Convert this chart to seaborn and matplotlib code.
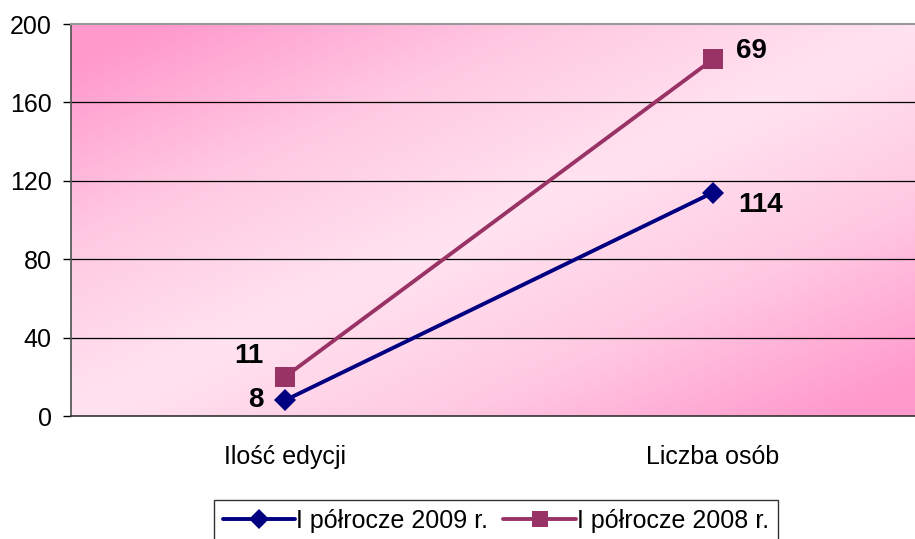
import numpy as np
import pandas as pd
import matplotlib
matplotlib.use("Agg")
import matplotlib.pyplot as plt
from matplotlib.colors import LinearSegmentedColormap
from matplotlib.lines import Line2D
import seaborn as sns

# ── Data ───────────────────────────────────────────────────────────────────
categories = ["Ilość edycji", "Liczba osób"]
series_2009 = [8, 114]
series_2008 = [20, 182]
labels_2009 = ["8", "114"]
labels_2008 = ["11", "69"]
name_2009 = "I półrocze 2009 r."
name_2008 = "I półrocze 2008 r."
y_ticks = [0, 40, 80, 120, 160, 200]

NAVY = "#000080"
PLUM = "#993366"

# ── Style ──────────────────────────────────────────────────────────────────
sns.set_theme(style="white")
plt.rcParams["font.family"] = ["Liberation Sans", "DejaVu Sans"]
plt.rcParams["text.color"] = "black"
plt.rcParams["xtick.color"] = "black"
plt.rcParams["ytick.color"] = "black"

df = pd.DataFrame({
    "cat": categories * 2,
    "val": series_2009 + series_2008,
    "series": [name_2009] * 2 + [name_2008] * 2,
})

fig = plt.figure(figsize=(9.15, 5.39), dpi=100)
ax = fig.add_axes([71 / 915, 123 / 539, 856 / 915, 392 / 539])

# pink diagonal gradient background
n = 200
u, v = np.meshgrid(np.linspace(0, 1, n), np.linspace(1, 0, n))
grad = np.abs(u - v)
cmap = LinearSegmentedColormap.from_list("pink", ["#FFE3F0", "#FFC8E2", "#FF99CC"])
ax.imshow(grad, cmap=cmap, extent=[0, 1, 0, 1], transform=ax.transAxes,
          aspect="auto", zorder=0, vmin=0, vmax=0.9)

d08 = df[df["series"] == name_2008]
d09 = df[df["series"] == name_2009]
sns.lineplot(data=d08, x="cat", y="val", color=PLUM, lw=2.8, marker="s",
             markersize=15, markeredgewidth=0, ax=ax, zorder=3, legend=False)
sns.lineplot(data=d09, x="cat", y="val", color=NAVY, lw=2.8, marker="D",
             markersize=11, markeredgewidth=0, ax=ax, zorder=4, legend=False)

# data labels
offs_08 = [(-26, 15), (28, 6)]
offs_09 = [(-21, 0), (34, -9)]
for i, (lab, off) in enumerate(zip(labels_2008, offs_08)):
    ax.annotate(lab, (i, series_2008[i]), xytext=off, textcoords="offset points",
                ha="center", va="center", fontsize=20, fontweight="bold",
                color="black", zorder=5)
for i, (lab, off) in enumerate(zip(labels_2009, offs_09)):
    ax.annotate(lab, (i, series_2009[i]), xytext=off, textcoords="offset points",
                ha="center", va="center", fontsize=20, fontweight="bold",
                color="black", zorder=5)

# axes
ax.set_xlim(-0.5, 1.5)
ax.set_ylim(0, 200)
ax.set_yticks(y_ticks)
ax.set_yticklabels([str(t) for t in y_ticks], fontsize=18)
ax.set_xticks([0, 1])
ax.set_xticklabels(categories, fontsize=18)
ax.set_xticks([-0.5, 0.5, 1.5], minor=True)
ax.tick_params(axis="x", which="major", length=0, pad=21)
ax.tick_params(axis="x", which="minor", length=6, width=1, color="black", direction="out")
ax.tick_params(axis="y", length=6, width=1, color="black", direction="out", pad=8, left=True)
ax.set_xlabel("")
ax.set_ylabel("")
for t in y_ticks[1:-1]:
    ax.axhline(t, color="black", lw=0.9, zorder=1)
ax.spines["top"].set_color("#999999")
ax.spines["top"].set_linewidth(1.5)
ax.spines["left"].set_color("#555555")
ax.spines["bottom"].set_color("#333333")
ax.spines["bottom"].set_linewidth(1.2)
ax.spines["right"].set_visible(False)

handles = [
    Line2D([], [], color=NAVY, lw=2.8, marker="D", markersize=10, markeredgewidth=0),
    Line2D([], [], color=PLUM, lw=2.8, marker="s", markersize=12, markeredgewidth=0),
]
leg = fig.legend(handles, [name_2009, name_2008], loc="lower center",
                 bbox_to_anchor=(0.542, -0.019), ncol=2, fontsize=18, frameon=True,
                 fancybox=False, edgecolor="black", handlelength=2.9,
                 handletextpad=0.05, columnspacing=0.6, borderpad=0.35,
                 borderaxespad=0.3)
leg.get_frame().set_linewidth(1.0)

fig.savefig("out.png", dpi=100)
